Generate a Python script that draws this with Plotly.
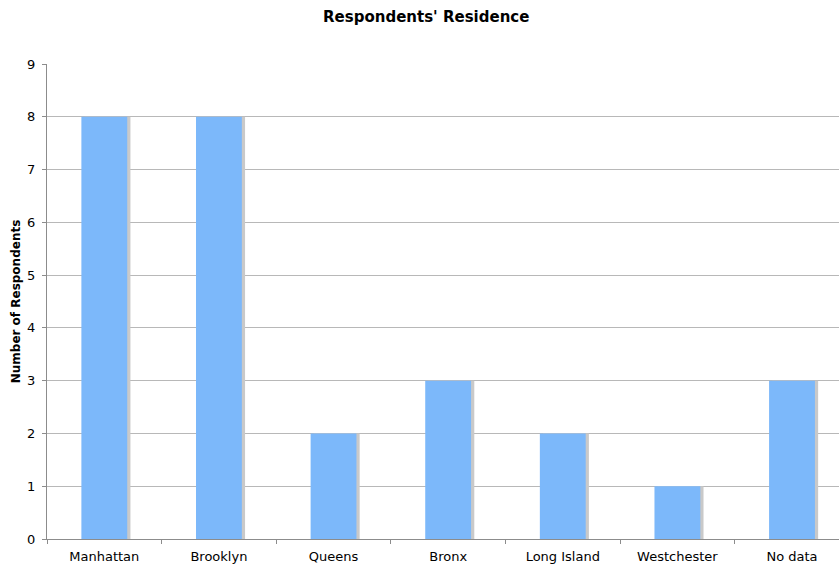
import plotly.graph_objects as go

# Where respondents live
places = ["Manhattan", "Brooklyn", "Queens", "Bronx", "Long Island", "Westchester", "No data"]
counts = [8, 8, 2, 3, 2, 1, 3]
y_ticks = list(range(0, 10))

BAR_W = 0.40
FONT = "DejaVu Sans, Verdana, sans-serif"

fig = go.Figure()

# soft drop shadow behind each bar
fig.add_trace(go.Bar(
    x=places, y=counts, base=0, width=BAR_W, offset=-BAR_W / 2 + 0.028,
    marker=dict(color="#c9c9c9", line=dict(width=0)),
    hoverinfo="skip", showlegend=False,
))
# main bars
fig.add_trace(go.Bar(
    x=places, y=counts, width=BAR_W, offset=-BAR_W / 2,
    marker=dict(color="#7cb8fa", line=dict(width=0)),
    showlegend=False,
))

fig.update_layout(
    width=839, height=567,
    margin=dict(l=47, r=0, t=64, b=28),
    barmode="overlay",
    plot_bgcolor="white", paper_bgcolor="white",
    font=dict(family=FONT, size=13, color="black"),
    title=dict(text="<b>Respondents' Residence</b>", x=0.508, xanchor="center",
               y=0.97, yanchor="middle", font=dict(size=15, family=FONT)),
    xaxis=dict(
        type="category", showgrid=False,
        showline=True, linecolor="#8c8c8c", linewidth=1,
        ticks="outside", ticklen=4, tickcolor="#8c8c8c",
        tickson="boundaries", ticklabelstandoff=5,
        tickfont=dict(size=13), range=[-0.5, 6.41],
    ),
    yaxis=dict(
        range=[0, 9], tickvals=y_ticks,
        showgrid=True, gridcolor="#b8b8b8", gridwidth=1,
        showline=True, linecolor="#8c8c8c", linewidth=1,
        ticks="outside", ticklen=4, tickcolor="#8c8c8c",
        ticklabelstandoff=4,
        tickfont=dict(size=13), zeroline=False,
        title=dict(text="<b>Number of Respondents</b>", font=dict(size=12), standoff=3),
    ),
)

fig.write_html("out.html")
